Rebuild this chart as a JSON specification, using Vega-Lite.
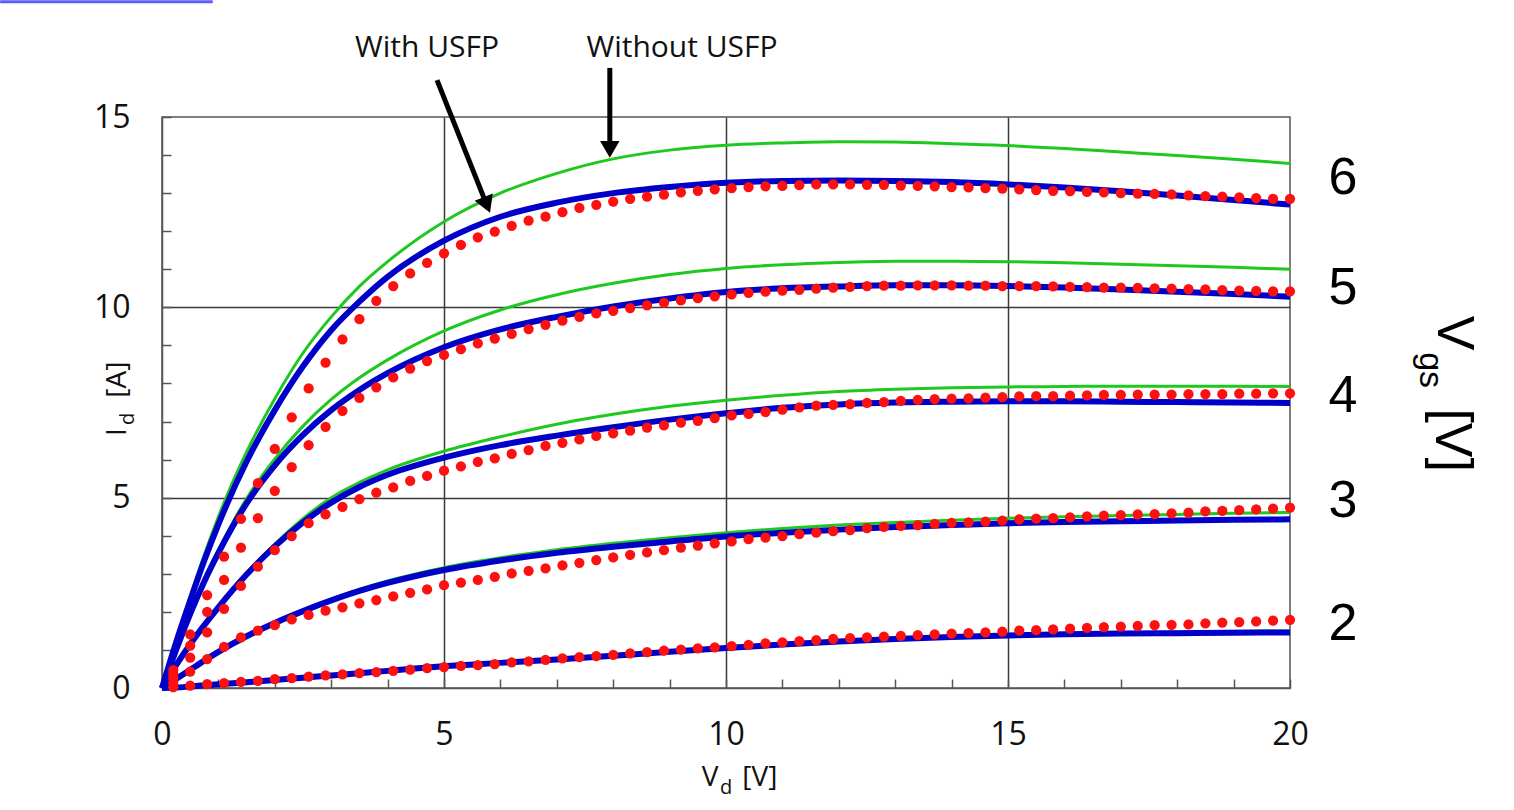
{
  "$schema": "https://vega.github.io/schema/vega-lite/v6.json",
  "width": 1128,
  "height": 571,
  "autosize": {"type": "none"},
  "padding": {"left": 162, "top": 117, "right": 224, "bottom": 122},
  "background": "white",
  "config": {
    "view": {"stroke": "#555555", "strokeWidth": 1.5},
    "font": "Open Sans"
  },
  "datasets": {
    "lines": [
      {"v":0,"b2":0,"b3":0,"b4":0,"b5":0,"b6":0,"g2":0,"g3":0,"g4":0,"g5":0,"g6":0},
      {"v":0.25,"b2":0.01,"b3":0.24,"b4":0.6,"b5":1.0,"b6":1.2,"g2":0.01,"g3":0.24,"g4":0.6,"g5":1.0,"g6":1.25},
      {"v":0.5,"b2":0.04,"b3":0.48,"b4":1.15,"b5":1.95,"b6":2.3,"g2":0.04,"g3":0.48,"g4":1.15,"g5":1.97,"g6":2.4},
      {"v":0.75,"b2":0.07,"b3":0.72,"b4":1.65,"b5":2.8,"b6":3.35,"g2":0.07,"g3":0.72,"g4":1.66,"g5":2.85,"g6":3.5},
      {"v":1,"b2":0.1,"b3":0.95,"b4":2.12,"b5":3.55,"b6":4.3,"g2":0.1,"g3":0.95,"g4":2.14,"g5":3.62,"g6":4.5},
      {"v":1.5,"b2":0.15,"b3":1.36,"b4":2.98,"b5":4.85,"b6":5.95,"g2":0.15,"g3":1.37,"g4":3.02,"g5":4.98,"g6":6.2},
      {"v":2,"b2":0.21,"b3":1.71,"b4":3.72,"b5":5.85,"b6":7.3,"g2":0.21,"g3":1.72,"g4":3.78,"g5":6.02,"g6":7.6},
      {"v":2.5,"b2":0.27,"b3":2.02,"b4":4.35,"b5":6.65,"b6":8.45,"g2":0.27,"g3":2.04,"g4":4.45,"g5":6.88,"g6":8.8},
      {"v":3,"b2":0.33,"b3":2.3,"b4":4.87,"b5":7.3,"b6":9.4,"g2":0.33,"g3":2.33,"g4":5.0,"g5":7.58,"g6":9.75},
      {"v":3.5,"b2":0.39,"b3":2.55,"b4":5.28,"b5":7.83,"b6":10.15,"g2":0.39,"g3":2.59,"g4":5.4,"g5":8.15,"g6":10.55},
      {"v":4,"b2":0.45,"b3":2.76,"b4":5.6,"b5":8.27,"b6":10.8,"g2":0.45,"g3":2.81,"g4":5.73,"g5":8.62,"g6":11.2},
      {"v":5,"b2":0.57,"b3":3.1,"b4":6.05,"b5":8.95,"b6":11.75,"g2":0.57,"g3":3.16,"g4":6.22,"g5":9.38,"g6":12.25},
      {"v":6,"b2":0.66,"b3":3.35,"b4":6.38,"b5":9.42,"b6":12.38,"g2":0.67,"g3":3.42,"g4":6.6,"g5":9.93,"g6":13.0},
      {"v":7,"b2":0.75,"b3":3.55,"b4":6.63,"b5":9.75,"b6":12.75,"g2":0.77,"g3":3.63,"g4":6.93,"g5":10.33,"g6":13.52},
      {"v":8,"b2":0.85,"b3":3.71,"b4":6.85,"b5":10.02,"b6":13.0,"g2":0.87,"g3":3.8,"g4":7.19,"g5":10.63,"g6":13.9},
      {"v":9,"b2":0.95,"b3":3.85,"b4":7.05,"b5":10.23,"b6":13.16,"g2":0.97,"g3":3.95,"g4":7.4,"g5":10.86,"g6":14.13},
      {"v":10,"b2":1.05,"b3":3.98,"b4":7.22,"b5":10.4,"b6":13.27,"g2":1.07,"g3":4.08,"g4":7.56,"g5":11.02,"g6":14.26},
      {"v":11,"b2":1.14,"b3":4.08,"b4":7.36,"b5":10.5,"b6":13.32,"g2":1.16,"g3":4.19,"g4":7.69,"g5":11.12,"g6":14.32},
      {"v":12,"b2":1.22,"b3":4.16,"b4":7.45,"b5":10.55,"b6":13.33,"g2":1.24,"g3":4.28,"g4":7.79,"g5":11.18,"g6":14.35},
      {"v":13,"b2":1.29,"b3":4.23,"b4":7.5,"b5":10.58,"b6":13.32,"g2":1.31,"g3":4.35,"g4":7.85,"g5":11.21,"g6":14.34},
      {"v":14,"b2":1.34,"b3":4.28,"b4":7.52,"b5":10.58,"b6":13.29,"g2":1.36,"g3":4.41,"g4":7.89,"g5":11.21,"g6":14.3},
      {"v":15,"b2":1.38,"b3":4.33,"b4":7.53,"b5":10.56,"b6":13.23,"g2":1.4,"g3":4.46,"g4":7.91,"g5":11.2,"g6":14.25},
      {"v":16,"b2":1.41,"b3":4.36,"b4":7.53,"b5":10.52,"b6":13.15,"g2":1.43,"g3":4.5,"g4":7.92,"g5":11.17,"g6":14.17},
      {"v":17,"b2":1.43,"b3":4.38,"b4":7.52,"b5":10.47,"b6":13.05,"g2":1.45,"g3":4.53,"g4":7.93,"g5":11.13,"g6":14.08},
      {"v":18,"b2":1.44,"b3":4.4,"b4":7.51,"b5":10.41,"b6":12.94,"g2":1.47,"g3":4.56,"g4":7.93,"g5":11.09,"g6":13.99},
      {"v":19,"b2":1.45,"b3":4.42,"b4":7.5,"b5":10.35,"b6":12.82,"g2":1.49,"g3":4.59,"g4":7.93,"g5":11.05,"g6":13.89},
      {"v":20,"b2":1.46,"b3":4.43,"b4":7.49,"b5":10.28,"b6":12.7,"g2":1.5,"g3":4.61,"g4":7.92,"g5":11.0,"g6":13.78}
    ],
    "dots": [
      {"v":0.2,"r2":0.02,"r3":0.14,"r4":0.27,"r5":0.37,"r6":0.47},
      {"v":0.5,"r2":0.06,"r3":0.43,"r4":0.80,"r5":1.11,"r6":1.41},
      {"v":0.8,"r2":0.10,"r3":0.76,"r4":1.46,"r5":2.00,"r6":2.44},
      {"v":1.1,"r2":0.13,"r3":1.08,"r4":2.08,"r5":2.84,"r6":3.45},
      {"v":1.4,"r2":0.16,"r3":1.33,"r4":2.68,"r5":3.69,"r6":4.44},
      {"v":1.7,"r2":0.19,"r3":1.51,"r4":3.19,"r5":4.46,"r6":5.38},
      {"v":2.0,"r2":0.23,"r3":1.65,"r4":3.62,"r5":5.18,"r6":6.28},
      {"v":2.3,"r2":0.26,"r3":1.80,"r4":3.99,"r5":5.80,"r6":7.11},
      {"v":2.6,"r2":0.30,"r3":1.92,"r4":4.33,"r5":6.38,"r6":7.87},
      {"v":2.9,"r2":0.33,"r3":2.03,"r4":4.56,"r5":6.86,"r6":8.55},
      {"v":3.2,"r2":0.36,"r3":2.12,"r4":4.76,"r5":7.28,"r6":9.16},
      {"v":3.5,"r2":0.39,"r3":2.22,"r4":4.96,"r5":7.62,"r6":9.69},
      {"v":3.8,"r2":0.42,"r3":2.31,"r4":5.13,"r5":7.90,"r6":10.17},
      {"v":4.1,"r2":0.45,"r3":2.41,"r4":5.27,"r5":8.16,"r6":10.56},
      {"v":4.4,"r2":0.48,"r3":2.50,"r4":5.44,"r5":8.39,"r6":10.89},
      {"v":4.7,"r2":0.52,"r3":2.59,"r4":5.57,"r5":8.59,"r6":11.17},
      {"v":5.0,"r2":0.55,"r3":2.70,"r4":5.71,"r5":8.75,"r6":11.42},
      {"v":5.3,"r2":0.58,"r3":2.77,"r4":5.82,"r5":8.90,"r6":11.64},
      {"v":5.6,"r2":0.60,"r3":2.84,"r4":5.94,"r5":9.05,"r6":11.84},
      {"v":5.9,"r2":0.63,"r3":2.92,"r4":6.03,"r5":9.18,"r6":11.99},
      {"v":6.2,"r2":0.67,"r3":3.01,"r4":6.15,"r5":9.30,"r6":12.14},
      {"v":6.5,"r2":0.70,"r3":3.08,"r4":6.25,"r5":9.43,"r6":12.28},
      {"v":6.8,"r2":0.74,"r3":3.14,"r4":6.36,"r5":9.54,"r6":12.38},
      {"v":7.1,"r2":0.78,"r3":3.22,"r4":6.44,"r5":9.65,"r6":12.50},
      {"v":7.4,"r2":0.81,"r3":3.29,"r4":6.53,"r5":9.75,"r6":12.61},
      {"v":7.7,"r2":0.84,"r3":3.36,"r4":6.62,"r5":9.84,"r6":12.69},
      {"v":8.0,"r2":0.87,"r3":3.43,"r4":6.69,"r5":9.91,"r6":12.78},
      {"v":8.3,"r2":0.91,"r3":3.50,"r4":6.76,"r5":9.98,"r6":12.85},
      {"v":8.6,"r2":0.94,"r3":3.56,"r4":6.84,"r5":10.05,"r6":12.91},
      {"v":8.9,"r2":0.98,"r3":3.62,"r4":6.90,"r5":10.12,"r6":12.96},
      {"v":9.2,"r2":1.01,"r3":3.69,"r4":6.97,"r5":10.18,"r6":13.02},
      {"v":9.5,"r2":1.04,"r3":3.74,"r4":7.02,"r5":10.24,"r6":13.06},
      {"v":9.8,"r2":1.07,"r3":3.80,"r4":7.09,"r5":10.29,"r6":13.10},
      {"v":10.1,"r2":1.10,"r3":3.85,"r4":7.16,"r5":10.34,"r6":13.13},
      {"v":10.4,"r2":1.13,"r3":3.91,"r4":7.20,"r5":10.38,"r6":13.16},
      {"v":10.7,"r2":1.17,"r3":3.95,"r4":7.25,"r5":10.41,"r6":13.18},
      {"v":11.0,"r2":1.20,"r3":3.99,"r4":7.31,"r5":10.44,"r6":13.19},
      {"v":11.3,"r2":1.23,"r3":4.04,"r4":7.37,"r5":10.46,"r6":13.21},
      {"v":11.6,"r2":1.26,"r3":4.08,"r4":7.42,"r5":10.49,"r6":13.23},
      {"v":11.9,"r2":1.29,"r3":4.12,"r4":7.44,"r5":10.52,"r6":13.23},
      {"v":12.2,"r2":1.31,"r3":4.15,"r4":7.46,"r5":10.54,"r6":13.23},
      {"v":12.5,"r2":1.33,"r3":4.20,"r4":7.49,"r5":10.56,"r6":13.22},
      {"v":12.8,"r2":1.35,"r3":4.23,"r4":7.51,"r5":10.57,"r6":13.22},
      {"v":13.1,"r2":1.37,"r3":4.26,"r4":7.54,"r5":10.57,"r6":13.20},
      {"v":13.4,"r2":1.39,"r3":4.28,"r4":7.57,"r5":10.58,"r6":13.19},
      {"v":13.7,"r2":1.41,"r3":4.31,"r4":7.59,"r5":10.58,"r6":13.18},
      {"v":14.0,"r2":1.43,"r3":4.34,"r4":7.60,"r5":10.58,"r6":13.16},
      {"v":14.3,"r2":1.44,"r3":4.35,"r4":7.61,"r5":10.57,"r6":13.15},
      {"v":14.6,"r2":1.46,"r3":4.37,"r4":7.63,"r5":10.57,"r6":13.13},
      {"v":14.9,"r2":1.48,"r3":4.40,"r4":7.64,"r5":10.56,"r6":13.12},
      {"v":15.2,"r2":1.51,"r3":4.43,"r4":7.66,"r5":10.56,"r6":13.10},
      {"v":15.5,"r2":1.52,"r3":4.45,"r4":7.67,"r5":10.56,"r6":13.08},
      {"v":15.8,"r2":1.54,"r3":4.46,"r4":7.67,"r5":10.55,"r6":13.06},
      {"v":16.1,"r2":1.56,"r3":4.48,"r4":7.68,"r5":10.54,"r6":13.05},
      {"v":16.4,"r2":1.58,"r3":4.51,"r4":7.69,"r5":10.53,"r6":13.03},
      {"v":16.7,"r2":1.60,"r3":4.53,"r4":7.70,"r5":10.52,"r6":13.02},
      {"v":17.0,"r2":1.61,"r3":4.54,"r4":7.70,"r5":10.52,"r6":13.00},
      {"v":17.3,"r2":1.63,"r3":4.56,"r4":7.71,"r5":10.51,"r6":12.99},
      {"v":17.6,"r2":1.65,"r3":4.57,"r4":7.71,"r5":10.50,"r6":12.98},
      {"v":17.9,"r2":1.66,"r3":4.59,"r4":7.71,"r5":10.49,"r6":12.97},
      {"v":18.2,"r2":1.67,"r3":4.61,"r4":7.72,"r5":10.48,"r6":12.94},
      {"v":18.5,"r2":1.70,"r3":4.64,"r4":7.72,"r5":10.47,"r6":12.92},
      {"v":18.8,"r2":1.72,"r3":4.65,"r4":7.72,"r5":10.45,"r6":12.91},
      {"v":19.1,"r2":1.73,"r3":4.67,"r4":7.73,"r5":10.44,"r6":12.89},
      {"v":19.4,"r2":1.75,"r3":4.69,"r4":7.73,"r5":10.43,"r6":12.87},
      {"v":19.7,"r2":1.77,"r3":4.71,"r4":7.74,"r5":10.42,"r6":12.85},
      {"v":20.0,"r2":1.79,"r3":4.74,"r4":7.74,"r5":10.42,"r6":12.85}
    ]
  },
  "encoding": {
    "x": {
      "field": "v", "type": "quantitative",
      "scale": {"domain": [0, 20], "nice": false, "zero": false},
      "axis": {
        "title": null,
        "values": [0,1,2,3,4,5,6,7,8,9,10,11,12,13,14,15,16,17,18,19,20],
        "labelExpr": "datum.value % 5 == 0 ? datum.label : ''",
        "tickSize": -9, "tickColor": "#555555", "tickWidth": 1.5,
        "domainColor": "#555555", "domainWidth": 1.5,
        "grid": true, "gridColor": "#3a3a3a", "gridWidth": 1.5,
        "gridOpacity": {"condition": {"test": "datum.value % 5 == 0 && datum.value > 0 && datum.value < 20", "value": 1}, "value": 0},
        "labelFont": "Open Sans", "labelFontSize": 32, "labelColor": "#111111",
        "labelPadding": 40, "labelFlush": false, "labelOverlap": false
      }
    },
    "y": {
      "field": "i", "type": "quantitative",
      "scale": {"domain": [0, 15], "nice": false},
      "axis": {
        "title": null,
        "values": [0,1,2,3,4,5,6,7,8,9,10,11,12,13,14,15],
        "labelExpr": "datum.value % 5 == 0 ? datum.label : ''",
        "tickSize": -9, "tickColor": "#555555", "tickWidth": 1.5,
        "domainColor": "#555555", "domainWidth": 1.5,
        "grid": true, "gridColor": "#3a3a3a", "gridWidth": 1.5,
        "gridOpacity": {"condition": {"test": "datum.value % 5 == 0 && datum.value > 0 && datum.value < 15", "value": 1}, "value": 0},
        "labelFont": "Open Sans", "labelFontSize": 32, "labelColor": "#111111",
        "labelPadding": 41, "labelFlush": false, "labelOverlap": false
      }
    }
  },
  "layer": [
    {
      "data": {"name": "lines"},
      "transform": [{"fold": ["g2","g3","g4","g5","g6"], "as": ["curve","i"]}],
      "mark": {"type": "line", "color": "#1ec81e", "strokeWidth": 3, "interpolate": "monotone"},
      "encoding": {"detail": {"field": "curve"}}
    },
    {
      "data": {"name": "lines"},
      "transform": [{"fold": ["b2","b3","b4","b5","b6"], "as": ["curve","i"]}],
      "mark": {"type": "line", "color": "#0000c8", "strokeWidth": 6, "interpolate": "monotone"},
      "encoding": {"detail": {"field": "curve"}}
    },
    {
      "data": {"name": "dots"},
      "transform": [{"fold": ["r2","r3","r4","r5","r6"], "as": ["curve","i"]}],
      "mark": {"type": "circle", "color": "#ff1010", "opacity": 1, "size": 105},
      "encoding": {"detail": {"field": "curve"}}
    },
    {
      "data": {"values": [{"v": -2.87, "v2": 0.9, "i": 18.03}]},
      "mark": {"type": "rule", "color": "#5b5bff", "strokeWidth": 3},
      "encoding": {"x2": {"field": "v2"}}
    },
    {
      "data": {"values": [{"v": 4.876, "i": 15.97, "v2": 5.71, "i2": 12.87}, {"v": 7.94, "i": 16.29, "v2": 7.94, "i2": 14.3}]},
      "mark": {"type": "rule", "color": "#000000", "strokeWidth": 5},
      "encoding": {"x2": {"field": "v2"}, "y2": {"field": "i2"}}
    },
    {
      "data": {"values": [{"v": 5.76, "i": 12.69, "a": -21.7}, {"v": 7.94, "i": 14.15, "a": 0}]},
      "mark": {"type": "point", "shape": "triangle-down", "filled": true, "color": "#000000", "opacity": 1, "size": 380},
      "encoding": {"angle": {"field": "a", "type": "quantitative", "scale": null}}
    },
    {
      "data": {"values": [{"v": 4.7, "i": 16.81, "t": "With USFP"}, {"v": 9.22, "i": 16.81, "t": "Without USFP"}]},
      "mark": {"type": "text", "font": "Open Sans", "fontSize": 30, "color": "#111111", "align": "center", "baseline": "middle"},
      "encoding": {"text": {"field": "t"}}
    },
    {
      "data": {"values": [{"v": 20.94, "i": 13.41, "t": "6"}, {"v": 20.94, "i": 10.52, "t": "5"}, {"v": 20.94, "i": 7.67, "t": "4"}, {"v": 20.94, "i": 4.9, "t": "3"}, {"v": 20.94, "i": 1.68, "t": "2"}]},
      "mark": {"type": "text", "font": "Liberation Sans", "fontSize": 52, "color": "#000000", "align": "center", "baseline": "middle"},
      "encoding": {"text": {"field": "t"}}
    },
    {
      "data": {"values": [{"v": 22.9, "i": 9.32, "t": "V"}, {"v": 22.87, "i": 6.51, "t": "[V]"}]},
      "mark": {"type": "text", "font": "Liberation Sans", "fontSize": 52, "color": "#000000", "align": "center", "baseline": "middle", "angle": 90},
      "encoding": {"text": {"field": "t"}}
    },
    {
      "data": {"values": [{"v": 22.48, "i": 8.35, "t": "gs"}]},
      "mark": {"type": "text", "font": "Liberation Sans", "fontSize": 34, "color": "#000000", "align": "center", "baseline": "middle", "angle": 90},
      "encoding": {"text": {"field": "t"}}
    },
    {
      "data": {"values": [{"v": -0.78, "i": 6.72, "t": "I"}, {"v": -0.78, "i": 8.1, "t": "[A]"}]},
      "mark": {"type": "text", "font": "Open Sans", "fontSize": 28, "color": "#111111", "align": "center", "baseline": "middle", "angle": 270},
      "encoding": {"text": {"field": "t"}}
    },
    {
      "data": {"values": [{"v": -0.61, "i": 7.07, "t": "d"}]},
      "mark": {"type": "text", "font": "Open Sans", "fontSize": 20, "color": "#111111", "align": "center", "baseline": "middle", "angle": 270},
      "encoding": {"text": {"field": "t"}}
    },
    {
      "data": {"values": [{"v": 9.72, "i": -2.36, "t": "V"}, {"v": 10.6, "i": -2.36, "t": "[V]"}]},
      "mark": {"type": "text", "font": "Open Sans", "fontSize": 28, "color": "#111111", "align": "center", "baseline": "middle"},
      "encoding": {"text": {"field": "t"}}
    },
    {
      "data": {"values": [{"v": 10.0, "i": -2.62, "t": "d"}]},
      "mark": {"type": "text", "font": "Open Sans", "fontSize": 20, "color": "#111111", "align": "center", "baseline": "middle"},
      "encoding": {"text": {"field": "t"}}
    }
  ]
}
